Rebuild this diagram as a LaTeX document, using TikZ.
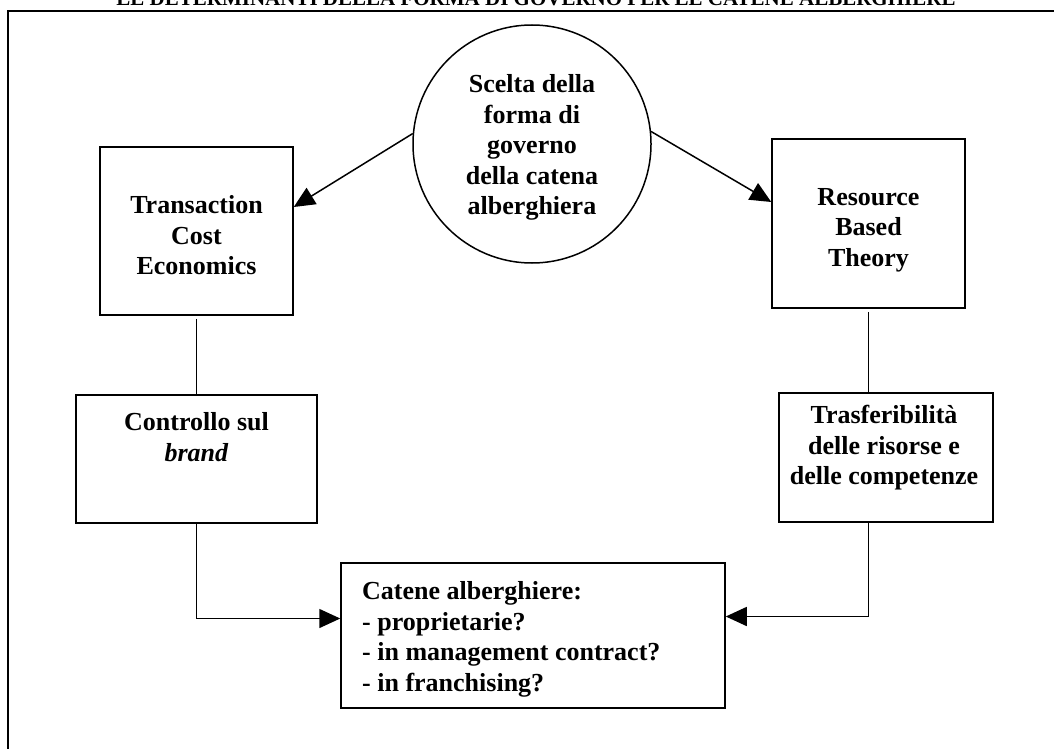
\documentclass[tikz,border=0pt]{standalone}
\usepackage{fontspec}
\setmainfont{Liberation Serif}
\usetikzlibrary{arrows.meta}

\begin{document}
\begin{tikzpicture}[x=1pt,y=-1pt,
  box/.style={draw, line width=1.5pt, inner sep=0pt},
  lbl/.style={font=\fontsize{26}{30.5}\selectfont\bfseries, align=center, inner sep=0pt, anchor=north},
  conn/.style={line width=1.5pt},
  arr/.style={conn, -{Triangle[length=21pt,width=19pt]}},
  frameline/.style={line width=2.2pt}]
\useasboundingbox (0,0) rectangle (1054,749);
\fill[white] (0,0) rectangle (1054,749);

% outer frame: left and top edges
\coordinate (fbl) at (8,749);
\coordinate (ftl) at (8,11);
\coordinate (ftr) at (1054,11);
\draw[frameline] (fbl) -- (ftl) -- (ftr);

% heading
\node[font=\fontsize{21}{24}\selectfont\bfseries, anchor=base, inner sep=0pt] (title) at (536,6)
  {LE DETERMINANTI DELLA FORMA DI GOVERNO PER LE CATENE ALBERGHIERE};

% central choice
\node[draw, circle, line width=1.5pt, minimum size=238pt, inner sep=0pt] (circ) at (532,144) {};
\node[lbl] (circt) at (532,74.4) {Scelta della\\forma di\\governo\\della catena\\alberghiera};

% theories
\node[box, minimum width=193pt, minimum height=168pt] (tce) at (196.5,231) {};
\node[lbl] (tcet) at (196.5,195.4) {Transaction\\Cost\\Economics};
\node[box, minimum width=193pt, minimum height=169pt] (rbt) at (868.5,223.5) {};
\node[lbl] (rbtt) at (868.5,187.8) {Resource\\Based\\Theory};

% determinants
\node[box, minimum width=241pt, minimum height=128pt] (ctrl) at (196.5,459) {};
\node[lbl] (ctrlt) at (196.5,412.4) {Controllo sul\\\textit{brand}};
\node[box, minimum width=214pt, minimum height=129pt] (trasf) at (886,457.5) {};
\node[lbl] (trasft) at (884,405) {Trasferibilità\\delle risorse e\\delle competenze};
\coordinate (trasfin) at (868.5,393);
\coordinate (trasfout) at (868.5,522);

% outcome
\node[box, minimum width=384pt, minimum height=145pt] (cat) at (533,635.5) {};
\node[lbl, align=left, anchor=north west] (catt) at (362,581.4)
  {Catene alberghiere:\\- proprietarie?\\- in management contract?\\- in franchising?};

% connectors
\draw[arr] (circ.175.7) -- ([yshift=24pt]tce.east);
\draw[arr] (circ.6.2) -- ([yshift=21.5pt]rbt.west);
\draw[conn, shorten <=3pt] (tce.south) -- (ctrl.north);
\draw[conn, shorten <=3pt] (rbt.south) -- (trasfin);
\draw[arr] (ctrl.south) |- ([yshift=17pt]cat.west);
\draw[arr] (trasfout) |- ([yshift=19pt]cat.east);
\end{tikzpicture}
\end{document}
